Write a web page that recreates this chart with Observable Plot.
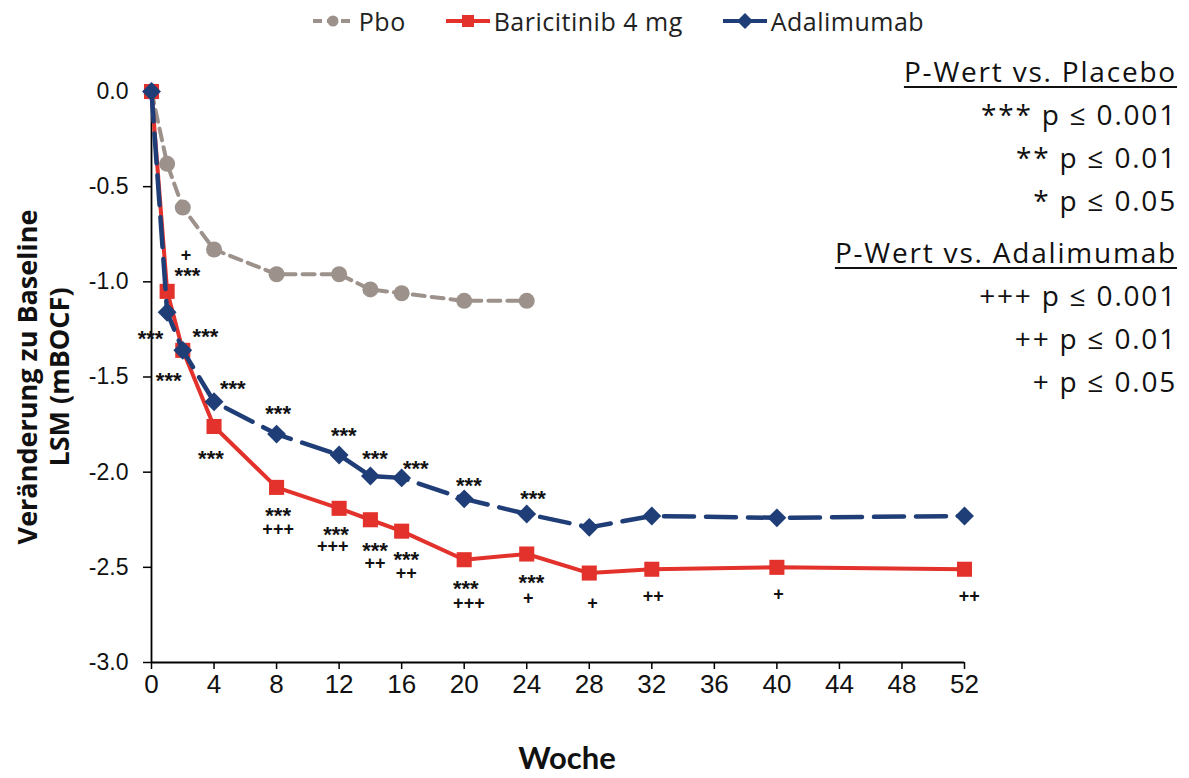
<!DOCTYPE html>
<html>
<head>
<meta charset="utf-8">
<script src="https://cdn.jsdelivr.net/npm/d3@7"></script>
<script src="https://cdn.jsdelivr.net/npm/@observablehq/plot@0.6"></script>
<style>
  html, body { margin: 0; padding: 0; background: #fff; }
  #wrap { position: relative; width: 1189px; height: 778px; overflow: hidden; }
  #legend { position: absolute; top: 4px; left: 0; width: 1189px; display: flex; justify-content: center; gap: 40px;
            font-family: "Open Sans", Lato, sans-serif; font-size: 25px; letter-spacing: 0.5px; color: #222; padding-left: 46px; box-sizing: border-box; }
  #legend .item { display: flex; align-items: center; gap: 4px; }
  #key { position: absolute; top: 50px; right: 12px; text-align: right; font-family: "Open Sans", Lato, sans-serif;
         font-size: 28px; letter-spacing: 1.8px; color: #111; line-height: 43px; }
  #key .h { text-decoration: underline; text-underline-offset: 4px; text-decoration-thickness: 2px; }
  #key .gap { height: 9px; }
  #ytitle { position: absolute; left: -157px; top: 345px; width: 400px; height: 64px; line-height: 32px; text-align: center;
            font-family: "Open Sans", Lato, sans-serif; font-weight: bold; font-size: 27px; color: #111;
            transform: rotate(-90deg); transform-origin: 50% 50%; white-space: nowrap; }
</style>
</head>
<body>
<div id="wrap">
  <div id="chart"></div>
  <div id="legend"></div>
  <div id="key"></div>
  <div id="ytitle"></div>
</div>
<script>
// ---- Data ----
const pboWeeks = [0, 1, 2, 4, 8, 12, 14, 16, 20, 24];
const pboValues = [0, -0.38, -0.61, -0.83, -0.96, -0.96, -1.04, -1.06, -1.10, -1.10];

const bariWeeks = [0, 1, 2, 4, 8, 12, 14, 16, 20, 24, 28, 32, 40, 52];
const bariValues = [0, -1.05, -1.36, -1.76, -2.08, -2.19, -2.25, -2.31, -2.46, -2.43, -2.53, -2.51, -2.50, -2.51];

const adaWeeks = [0, 1, 2, 4, 8, 12, 14, 16, 20, 24, 28, 32, 40, 52];
const adaValues = [0, -1.16, -1.36, -1.63, -1.80, -1.91, -2.02, -2.03, -2.14, -2.22, -2.29, -2.23, -2.24, -2.23];

const seriesNames = ["Pbo", "Baricitinib 4 mg", "Adalimumab"];
const seriesColors = ["#9c928b", "#e2322b", "#1f3e77"];

// significance annotations (week, value, label)
const annotWeeks = [2.2, 2.3, -0.06, 3.45, 1.1, 5.2, 3.8, 8.1, 8.1, 8.1, 12.3, 11.8, 11.6, 14.3, 14.3, 14.3, 16.9, 16.3, 16.3, 20.3, 20.1, 20.3, 24.4, 24.3, 24.1, 28.2, 32.1, 40.1, 52.3];
const annotValues = [-0.86, -0.94, -1.27, -1.26, -1.49, -1.53, -1.90, -1.66, -2.20, -2.30, -1.78, -2.30, -2.39, -1.90, -2.38, -2.48, -1.95, -2.43, -2.53, -2.04, -2.58, -2.69, -2.11, -2.55, -2.66, -2.69, -2.65, -2.64, -2.65];
const annotLabels = ["+", "***", "***", "***", "***", "***", "***", "***", "***", "+++", "***", "***", "+++", "***", "***", "++", "***", "***", "++", "***", "***", "+++", "***", "***", "+", "+", "++", "+", "++"];

const xTicks = [0, 4, 8, 12, 16, 20, 24, 28, 32, 36, 40, 44, 48, 52];
const yTicks = [0, -0.5, -1.0, -1.5, -2.0, -2.5, -3.0];

const yTitleLines = ["Veränderung zu Baseline", "LSM (mBOCF)"];
const xTitle = "Woche";

const keyLines = [
  ["P-Wert vs. Placebo", true], ["*** p ≤ 0.001", false], ["** p ≤ 0.01", false], ["* p ≤ 0.05", false],
  [null, false],
  ["P-Wert vs. Adalimumab", true], ["+++ p ≤ 0.001", false], ["++ p ≤ 0.01", false], ["+ p ≤ 0.05", false]
];

// ---- Build tables ----
const pbo = pboWeeks.map((w, i) => ({week: w, value: pboValues[i]}));
const bari = bariWeeks.map((w, i) => ({week: w, value: bariValues[i]}));
const ada = adaWeeks.map((w, i) => ({week: w, value: adaValues[i]}));
const annots = annotWeeks.map((w, i) => ({week: w, value: annotValues[i], label: annotLabels[i]}));

const stars = annots.filter(d => d.label.startsWith("*"));
const plus = annots.filter(d => d.label.startsWith("+"));

const chart = Plot.plot({
  width: 1189,
  height: 778,
  marginLeft: 151,
  marginRight: 225,
  marginTop: 91,
  marginBottom: 116,
  style: {background: "transparent", fontFamily: "Liberation Sans, Arial, sans-serif"},
  x: {domain: [0, 52], ticks: xTicks},
  y: {domain: [-3, 0], ticks: yTicks},
  marks: [
    Plot.axisY({ticks: yTicks, tickFormat: d => d.toFixed(1), tickSize: 8, tickPadding: 15, fontSize: 23, label: null, stroke: "#000", strokeWidth: 1.5, color: "#111"}),
    Plot.axisX({ticks: xTicks, tickFormat: d => String(d), tickSize: 7, tickPadding: 5, fontSize: 26, label: null, stroke: "#000", strokeWidth: 1.5, color: "#111"}),
    Plot.ruleX([0], {stroke: "#000", strokeWidth: 1.8}),
    Plot.ruleY([-3], {stroke: "#000", strokeWidth: 1.8}),
    // x axis title
    Plot.text([xTitle], {frameAnchor: "bottom", lineAnchor: "bottom", dy: 106, dx: 9, fontSize: 31, fontWeight: "bold", fontFamily: "Lato, Open Sans, sans-serif", fill: "#111"}),
    // Placebo
    Plot.line(pbo, {x: "week", y: "value", stroke: seriesColors[0], strokeWidth: 4, strokeDasharray: "12,7"}),
    Plot.dot(pbo, {x: "week", y: "value", symbol: "circle", r: 8, fill: seriesColors[0], stroke: null}),
    // Baricitinib
    Plot.line(bari, {x: "week", y: "value", stroke: seriesColors[1], strokeWidth: 4}),
    Plot.dot(bari, {x: "week", y: "value", symbol: "square", r: 8.5, fill: seriesColors[1], stroke: null}),
    // Adalimumab
    Plot.line(ada, {x: "week", y: "value", stroke: seriesColors[2], strokeWidth: 4.5, strokeDasharray: "30,12"}),
    Plot.dot(ada, {x: "week", y: "value", symbol: "diamond2", r: 8.5, fill: seriesColors[2], stroke: null}),
    // annotations
    Plot.text(stars, {x: "week", y: "value", text: "label", fontSize: 22, fontWeight: "bold", fill: "#111", dy: 6, lineAnchor: "middle", textAnchor: "middle"}),
    Plot.text(plus, {x: "week", y: "value", text: "label", fontSize: 18, fontWeight: "bold", fill: "#111", lineAnchor: "middle", textAnchor: "middle"})
  ]
});
document.getElementById("chart").appendChild(chart);

// ---- Y title (HTML) ----
const yt = document.getElementById("ytitle");
yTitleLines.forEach(t => { const d = document.createElement("div"); d.textContent = t; yt.appendChild(d); });

// ---- Legend (HTML) ----
const legend = document.getElementById("legend");
const swatch = (i) => {
  const c = seriesColors[i];
  let line, marker;
  if (i === 0) {
    line = `<line x1="2" y1="12" x2="42" y2="12" stroke="${c}" stroke-width="4" stroke-dasharray="9,5"/>`;
    marker = `<circle cx="22" cy="12" r="5.5" fill="${c}"/>`;
  } else if (i === 1) {
    line = `<line x1="0" y1="12" x2="44" y2="12" stroke="${c}" stroke-width="4"/>`;
    marker = `<rect x="16" y="6" width="12" height="12" fill="${c}"/>`;
  } else {
    line = `<line x1="0" y1="12" x2="44" y2="12" stroke="${c}" stroke-width="4"/>`;
    marker = `<path d="M22,4 L30,12 L22,20 L14,12 Z" fill="${c}"/>`;
  }
  return `<svg width="44" height="24">${line}${marker}</svg>`;
};
seriesNames.forEach((n, i) => {
  const d = document.createElement("div");
  d.className = "item";
  d.innerHTML = swatch(i) + `<span>${n}</span>`;
  legend.appendChild(d);
});

// ---- Significance key (HTML) ----
const key = document.getElementById("key");
keyLines.forEach(([t, h]) => {
  const d = document.createElement("div");
  if (t === null) { d.className = "gap"; }
  else { d.textContent = t; if (h) d.className = "h"; }
  key.appendChild(d);
});
</script>
</body>
</html>
